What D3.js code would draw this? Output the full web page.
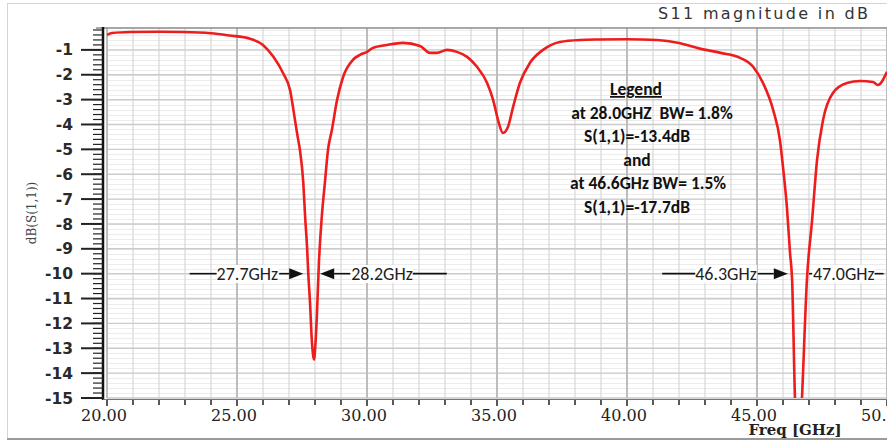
<!DOCTYPE html>
<html>
<head>
<meta charset="utf-8">
<script src="https://d3js.org/d3.v7.min.js"></script>
<style>
  body { margin: 0; background: #fff; }
  svg { display: block; }
  text { white-space: pre; }
</style>
</head>
<body>
<svg width="887" height="441"></svg>
<script>
// S11 trace (GHz, dB)
const freq = [20.0, 20.2, 20.9, 22.0, 22.9, 24.0, 24.7, 25.5, 26.0, 26.4, 26.77, 27.04, 27.23, 27.35,
  27.42, 27.55, 27.62, 27.70, 27.74, 27.81, 27.87, 27.93, 27.97, 28.0, 28.07, 28.15, 28.26, 28.38, 28.5,
  28.65, 28.85, 29.08, 29.46, 29.73, 30.0, 30.23, 30.77, 31.38, 32.04, 32.42, 32.69, 33.08, 33.46, 33.85,
  34.23, 34.62, 34.85, 35.04, 35.23, 35.42, 35.62, 35.88, 36.27, 36.77, 37.42, 38.2, 38.96, 40.0, 41.15,
  42.0, 42.8, 43.6, 44.35, 44.85, 45.23, 45.62, 45.88, 46.0, 46.15, 46.27, 46.35, 46.46, 46.6, 46.73,
  46.92, 47.12, 47.31, 47.54, 47.92, 48.46, 48.96, 49.46, 49.65, 50.0];
const s11 = [-0.40, -0.32, -0.28, -0.27, -0.28, -0.33, -0.42, -0.55, -0.80, -1.28, -1.93, -2.61, -3.82, -4.60,
  -5.02, -6.35, -7.70, -9.05, -9.97, -11.2, -12.54, -13.3, -13.45, -13.1, -11.74, -9.57, -7.72, -6.35, -5.02,
  -4.22, -3.01, -2.09, -1.40, -1.20, -1.08, -0.92, -0.80, -0.72, -0.84, -1.12, -1.12, -1.00, -1.08, -1.28,
  -1.68, -2.33, -3.01, -3.82, -4.34, -4.10, -3.29, -2.33, -1.52, -1.00, -0.68, -0.60, -0.58, -0.57, -0.60,
  -0.72, -0.95, -1.12, -1.32, -1.68, -2.33, -3.41, -4.62, -5.71, -7.32, -9.17, -10.25, -15.0, -17.7, -15.0,
  -10.25, -7.84, -5.42, -3.82, -2.73, -2.33, -2.25, -2.29, -2.41, -1.88];

const xTicks = [20, 25, 30, 35, 40, 45, 50];
const yTicks = [-1, -2, -3, -4, -5, -6, -7, -8, -9, -10, -11, -12, -13, -14, -15];

const legendLines = ["Legend", "at 28.0GHZ  BW= 1.8%", "S(1,1)=-13.4dB", "and",
  "at 46.6GHz BW= 1.5%", "S(1,1)=-17.7dB"];

// -10 dB bandwidth markers
const markFreq = [27.7, 28.2, 46.3, 47.0];
const markLabel = ["27.7GHz", "28.2GHz", "46.3GHz", "47.0GHz"];
const markLevel = -10;

let svg = d3.select("svg");

let x = d3.scaleLinear().domain([20, 50]).range([107, 887]);
let y = d3.scaleLinear().domain([-15, -0.12]).range([398, 28]);

// outer frame
svg.append("rect").attr("x", 7.5).attr("y", 3.5).attr("width", 900).attr("height", 435)
    .attr("fill", "#fff").attr("stroke", "#d4d4d4");
svg.append("line").attr("x1", 7).attr("x2", 887).attr("y1", 439).attr("y2", 439)
    .attr("stroke", "#9a9a9a").attr("stroke-width", 2);

let grid = svg.append("g");

// minor horizontal grid every 0.2 dB
grid.selectAll("line.hmin")
    .data(d3.range(-15, -0.1, 0.2))
    .enter().append("line")
    .attr("x1", x(20)).attr("x2", x(50))
    .attr("y1", d => Math.round(y(d)) + 0.5).attr("y2", d => Math.round(y(d)) + 0.5)
    .attr("stroke", "#ececec");

// minor vertical grid every GHz
grid.selectAll("line.vmin")
    .data(d3.range(21, 50, 1).filter(d => d % 5 !== 0))
    .enter().append("line")
    .attr("x1", d => x(d)).attr("x2", d => x(d))
    .attr("y1", y.range()[1]).attr("y2", y.range()[0])
    .attr("stroke", "#dadada").attr("stroke-width", 1.3);

grid.selectAll("line.hmaj")
    .data(yTicks)
    .enter().append("line")
    .attr("x1", x(20)).attr("x2", x(50))
    .attr("y1", d => y(d)).attr("y2", d => y(d))
    .attr("stroke", "#cbcbcb").attr("stroke-width", 1.4);

grid.selectAll("line.vmaj")
    .data(xTicks)
    .enter().append("line")
    .attr("x1", d => x(d)).attr("x2", d => x(d))
    .attr("y1", y.range()[1]).attr("y2", y.range()[0])
    .attr("stroke", "#bdbdbd").attr("stroke-width", 2);

// plot top border
svg.append("line").attr("x1", 96).attr("x2", 887).attr("y1", 28).attr("y2", 28)
    .attr("stroke", "#8a8a8a").attr("stroke-width", 1.5);

// y axis: thick black spine, integer and 0.2 dB ticks
let yAxis = svg.append("g");
yAxis.append("line").attr("x1", 103).attr("x2", 103).attr("y1", 27).attr("y2", 400)
    .attr("stroke", "#111").attr("stroke-width", 2.5);
yAxis.selectAll("line.minor")
    .data(d3.range(-15, -0.1, 0.2))
    .enter().append("line")
    .attr("x1", 93).attr("x2", 103)
    .attr("y1", d => y(d)).attr("y2", d => y(d))
    .attr("stroke", "#222").attr("stroke-width", 1.2);
yAxis.selectAll("line.major")
    .data(yTicks)
    .enter().append("line")
    .attr("x1", 81).attr("x2", 103)
    .attr("y1", d => y(d)).attr("y2", d => y(d))
    .attr("stroke", "#222").attr("stroke-width", 2);
yAxis.selectAll("text")
    .data(yTicks)
    .enter().append("text")
    .attr("x", 73).attr("y", d => y(d)).attr("dy", "0.36em")
    .attr("text-anchor", "end")
    .attr("font-family", "DejaVu Sans").attr("font-weight", "bold").attr("font-size", 15.5)
    .attr("fill", "#2a2a2a")
    .text(d => d);

// x axis
let xAxis = svg.append("g");
xAxis.append("line").attr("x1", 103).attr("x2", 887).attr("y1", 399.5).attr("y2", 399.5)
    .attr("stroke", "#777").attr("stroke-width", 1);
xAxis.selectAll("line.tick")
    .data(d3.range(20, 51, 1))
    .enter().append("line")
    .attr("x1", d => x(d)).attr("x2", d => x(d))
    .attr("y1", 400).attr("y2", d => d % 5 === 0 ? 406 : 405)
    .attr("stroke", "#222").attr("stroke-width", 1.5);
xAxis.selectAll("text")
    .data(xTicks)
    .enter().append("text")
    .attr("x", d => x(d) - 3).attr("y", 421)
    .attr("text-anchor", "middle")
    .attr("font-family", "DejaVu Serif").attr("font-size", 16)
    .attr("fill", "#222")
    .text(d => d.toFixed(2));

svg.append("text")
    .attr("x", 795).attr("y", 435)
    .attr("text-anchor", "middle")
    .attr("font-family", "DejaVu Serif").attr("font-weight", "bold").attr("font-size", 15)
    .attr("fill", "#222")
    .text("Freq [GHz]");

svg.append("text")
    .attr("transform", "translate(36,213) rotate(-90)")
    .attr("text-anchor", "middle")
    .attr("font-family", "DejaVu Serif").attr("font-size", 12)
    .attr("fill", "#444")
    .text("dB(S(1,1))");

svg.append("text")
    .attr("x", 658).attr("y", 19)
    .attr("textLength", 210).attr("lengthAdjust", "spacing")
    .attr("font-family", "DejaVu Sans").attr("font-size", 16)
    .attr("fill", "#333")
    .text("S11 magnitude in dB");

// the trace, clipped to the plot area
svg.append("clipPath").attr("id", "plot")
    .append("rect").attr("x", x(20)).attr("y", y.range()[1])
    .attr("width", x(50) - x(20)).attr("height", y.range()[0] - y.range()[1]);

let line = d3.line()
    .x(d => x(d[0]))
    .y(d => y(d[1]))
    .curve(d3.curveMonotoneX);

svg.append("path")
    .datum(d3.zip(freq, s11))
    .attr("clip-path", "url(#plot)")
    .attr("fill", "none")
    .attr("stroke", "#ee1c1c")
    .attr("stroke-width", 2.6)
    .attr("stroke-linejoin", "round")
    .attr("d", line);

// legend block
let legendX = [636, 652, 637, 637, 648, 637];
let legend = svg.append("g")
    .attr("font-family", "Carlito, 'Liberation Sans', sans-serif")
    .attr("font-weight", "bold").attr("font-size", 17.5)
    .attr("fill", "#111")
    .attr("text-anchor", "middle");
legend.selectAll("text")
    .data(legendLines)
    .enter().append("text")
    .attr("x", (d, i) => legendX[i])
    .attr("y", (d, i) => 95 + i * 23.6)
    .attr("text-decoration", (d, i) => i === 0 ? "underline" : null)
    .text(d => d);

// bandwidth markers: arrows pointing at the -10 dB crossings
let markGap = [-4, 0, -3, 0];       // tip offset from crossing
let markDir = [1, -1, 1, -1];       // 1 = arrow points right
let markHead = [14, 14, 14, 0];
let markShaft = [10, 16, 16, 3];
let markTail = [27, 34, 33, 9];
let yM = y(markLevel);

let marks = svg.append("g");
markFreq.forEach(function(f, i) {
    let tip = x(f) + markGap[i];
    let dir = markDir[i];
    let headEnd = tip - dir * markHead[i];
    let shaftEnd = headEnd - dir * markShaft[i];
    let g = marks.append("g");

    let t = g.append("text")
        .attr("x", shaftEnd - dir * 1)
        .attr("y", yM).attr("dy", "0.35em")
        .attr("text-anchor", dir === 1 ? "end" : "start")
        .attr("font-family", "Carlito, 'Liberation Sans', sans-serif").attr("font-size", 18)
        .attr("fill", "#222")
        .text(markLabel[i]);
    let b = t.node().getBBox();
    g.insert("rect", "text")
        .attr("x", b.x).attr("y", b.y + 2).attr("width", b.width).attr("height", b.height - 4)
        .attr("fill", "#fff");

    let farEnd = dir === 1 ? b.x - markTail[i] : b.x + b.width + markTail[i];
    let nearText = dir === 1 ? b.x : b.x + b.width;
    g.append("line")
        .attr("x1", farEnd).attr("x2", nearText)
        .attr("y1", yM).attr("y2", yM)
        .attr("stroke", "#111").attr("stroke-width", 1.6);
    g.append("line")
        .attr("x1", shaftEnd).attr("x2", headEnd)
        .attr("y1", yM).attr("y2", yM)
        .attr("stroke", "#111").attr("stroke-width", 1.6);
    if (markHead[i] > 0) {
        g.append("path")
            .attr("d", "M" + tip + "," + yM + "L" + headEnd + "," + (yM - 5.5) + "L" + headEnd + "," + (yM + 5.5) + "Z")
            .attr("fill", "#111");
    }
});
</script>
</body>
</html>
